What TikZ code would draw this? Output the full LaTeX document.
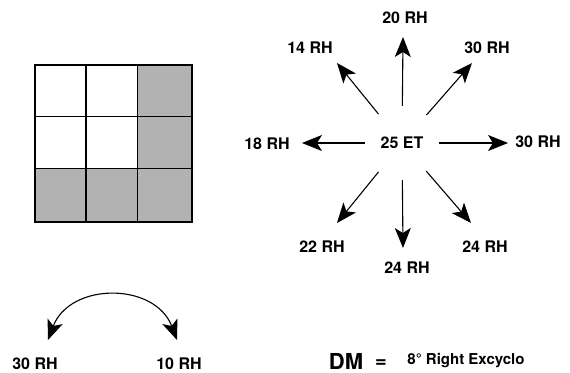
\documentclass[tikz,border=0pt]{standalone}
\usepackage{fontspec}
\setmainfont{TeX Gyre Heros}
\usetikzlibrary{arrows.meta}
\tikzset{
  lab/.style={font=\bfseries\fontsize{16}{16}\selectfont, inner sep=0pt},
  head/.tip={Stealth[length=20pt,width=16pt,inset=5pt]},
  arr/.style={line width=1.1pt, -head},
  cell/.style={fill=black!30},
  gridline/.style={line width=1.3pt}
}
\begin{document}
\begin{tikzpicture}[x=1pt,y=-1pt]
\useasboundingbox (0,0) rectangle (570,372);
% grid
\fill[cell] (137.5,65) rectangle (192,222);
\fill[cell] (35,168.3) rectangle (192,222);
\draw[gridline] (35,65) rectangle (192,222);
\draw[gridline] (86,65) -- (86,222);
\draw[gridline] (137.5,65) -- (137.5,222);
\draw[gridline] (35,116.7) -- (192,116.7);
\draw[gridline] (35,168.3) -- (192,168.3);
% star
\node[lab, circle, minimum size=74pt] (et) at (402,143) {25 ET};
\node[lab] (n20) at (405,18) {20 RH};
\node[lab] (n14) at (310,48) {14 RH};
\node[lab] (n30a) at (487,48) {30 RH};
\node[lab] (n18) at (267,144) {18 RH};
\node[lab] (n30b) at (538,142) {30 RH};
\node[lab] (n22) at (322,247) {22 RH};
\node[lab] (n24a) at (407,268) {24 RH};
\node[lab] (n24b) at (485,247) {24 RH};
\coordinate (t20) at (403,37);
\coordinate (t14) at (337,63);
\coordinate (t30a) at (472,63);
\coordinate (t18) at (302,143);
\coordinate (t30b) at (508,143);
\coordinate (t22) at (337,223);
\coordinate (t24a) at (403,248);
\coordinate (t24b) at (471,223);
\draw[arr] (et) -- (t20);
\draw[arr] (et) -- (t14);
\draw[arr] (et) -- (t30a);
\draw[arr] (et) -- (t18);
\draw[arr] (et) -- (t30b);
\draw[arr] (et) -- (t22);
\draw[arr] (et) -- (t24a);
\draw[arr] (et) -- (t24b);
% swing
\node[lab] (l30) at (35,364) {30 RH};
\node[lab] (l10) at (179,364) {10 RH};
\coordinate (s30) at (48,340);
\coordinate (s10) at (177,340);
\draw[arr, head-head] (s30) .. controls (70,282) and (155,282) .. (s10);
% result
\node[font=\bfseries\fontsize{22}{22}\selectfont, inner sep=0pt] (dm) at (346,361) {DM};
\node[font=\bfseries\fontsize{20}{20}\selectfont, inner sep=0pt] (eq) at (381,364) {=};
\node[font=\bfseries\fontsize{15}{15}\selectfont, inner sep=0pt] (dev) at (466,361) {8° Right Excyclo};
\end{tikzpicture}
\end{document}
